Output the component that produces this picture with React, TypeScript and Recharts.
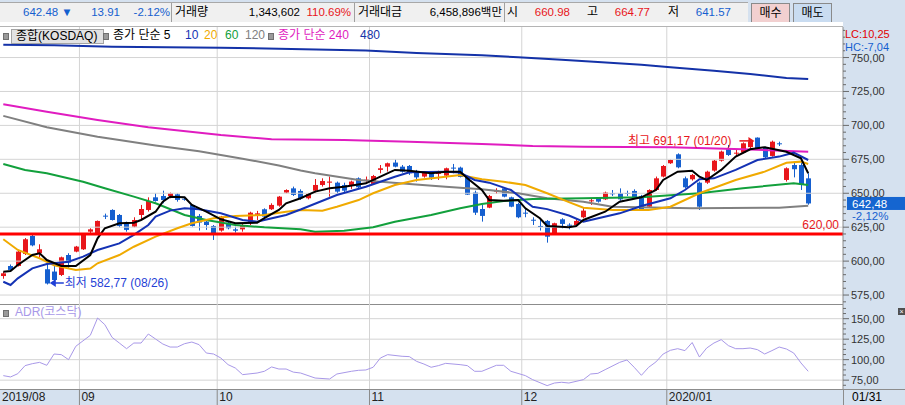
import React from 'react';
import { Bar, ComposedChart, Line, ReferenceDot, ReferenceLine, XAxis, YAxis } from 'recharts';

// trading days shown (KOSDAQ daily)
const dates = [
  '08/16', '08/19', '08/20', '08/21', '08/22', '08/23', '08/26', '08/27', '08/28', '08/29', '08/30',
  '09/02', '09/03', '09/04', '09/05', '09/06', '09/09', '09/10', '09/11', '09/16', '09/17', '09/18', '09/19', '09/20', '09/23', '09/24', '09/25', '09/26', '09/27', '09/30',
  '10/01', '10/02', '10/04', '10/07', '10/08', '10/10', '10/11', '10/14', '10/15', '10/16', '10/17', '10/18', '10/21', '10/22', '10/23', '10/24', '10/25', '10/28', '10/29', '10/30', '10/31',
  '11/01', '11/04', '11/05', '11/06', '11/07', '11/08', '11/11', '11/12', '11/13', '11/14', '11/15', '11/18', '11/19', '11/20', '11/21', '11/22', '11/25', '11/26', '11/27', '11/28', '11/29',
  '12/02', '12/03', '12/04', '12/05', '12/06', '12/09', '12/10', '12/11', '12/12', '12/13', '12/16', '12/17', '12/18', '12/19', '12/20', '12/23', '12/24', '12/26', '12/27', '12/30',
  '01/02', '01/03', '01/06', '01/07', '01/08', '01/09', '01/10', '01/13', '01/14', '01/15', '01/16', '01/17', '01/20', '01/21', '01/22', '01/23', '01/28', '01/29', '01/30', '01/31',
];

const opens = [
  589, 596.4, 596.4, 605.3, 618.5, 605.8, 594, 592.3, 589.8, 604.5, 607,
  608.7, 621.7, 620, 633.5, 637.7, 634, 628.4, 625.4, 634, 637.7, 647, 648, 648, 649.2, 646, 641.4, 633.3, 629.1, 625.9,
  622.5, 628.4, 623.4, 623.4, 627.9, 634, 638.2, 638.2, 640.9, 650.5, 653.6, 651.7, 646.3, 651.9, 656.1, 657.8, 657.8, 656.1, 656.1, 661, 659.3,
  656.9, 667.2, 669.6, 672.6, 669.6, 670.1, 665.9, 662.3, 665.4, 664.5, 663, 668.9, 668.9, 662, 650.5, 638.4, 639.4, 651.2, 653.6, 647, 642.1,
  635.7, 630.5, 625.9, 629.6, 620, 630.8, 626.8, 626.6, 632.3, 644.3, 646.3, 645.5, 650, 650, 650.2, 651.7, 648, 640.1, 652.4, 662.3,
  672.1, 678.7, 661, 660.3, 657.8, 657.8, 666.7, 674, 682.4, 679.4, 679.9, 684, 691, 683.9, 677.5, 686.8, 659.8, 670.8, 670.8, 660.98,
];
const highs = [
  592, 597.5, 608, 617, 619.3, 612.4, 597.9, 596.4, 603.3, 605.8, 611.2,
  620, 624.2, 629.9, 635, 638.2, 634.7, 629.1, 632.3, 641.4, 647, 650, 651.9, 650.5, 650, 647, 641.9, 634.7, 630.3, 626.6,
  633.3, 629.6, 625.4, 627.9, 636.4, 637, 638.9, 642.6, 648, 652.9, 654.9, 652.9, 650, 660.5, 661, 662.3, 658.6, 657.8, 659.3, 661.7, 662.3,
  663.5, 670.8, 672.6, 675, 670.8, 670.8, 667.2, 666.4, 665.9, 666.6, 668.9, 671.6, 669.6, 662.3, 651.9, 641.4, 648.8, 653.7, 654.4, 647.5, 643,
  638.9, 632.3, 630.3, 630.3, 628.3, 631.6, 627.9, 630.8, 639.7, 646.3, 647, 651.2, 652.4, 653.6, 651.9, 652.9, 648.8, 652.9, 662.3, 670.8,
  675, 679.4, 662.3, 664.2, 658.6, 666.6, 674.5, 681.4, 685.6, 682.4, 687.5, 689.5, 691.17, 684.4, 688.8, 688, 669.1, 672.6, 674.5, 664.77,
];
const lows = [
  587, 592.5, 596, 604.5, 610.9, 602.8, 582.77, 583, 589, 594.7, 606.5,
  608.2, 620.5, 619.5, 631, 629.9, 624.9, 621.7, 624.9, 630.3, 636.5, 643.8, 642.6, 646.3, 643.8, 644.5, 625.4, 622.5, 623, 615.6,
  621.7, 623.4, 621, 621.7, 626.6, 630.3, 632.3, 637.7, 640.1, 650, 648, 645.1, 645.5, 650.5, 654.9, 647.5, 650, 650.5, 653.2, 653.6, 656.9,
  656.1, 664.7, 666, 669.1, 665.2, 663.5, 658.6, 661.5, 659.8, 659.8, 660.3, 664.7, 661.7, 648.8, 634, 629.1, 639, 649.5, 647, 639.7, 631.6,
  632.3, 626.6, 622.5, 613.6, 619.3, 624.2, 623.4, 625.9, 631.6, 641.4, 643.1, 645, 648, 644.5, 648, 646.3, 637.7, 639.7, 651.9, 661.7,
  671.6, 668.4, 653.6, 659.3, 637.7, 656.9, 665.9, 673.3, 677.5, 677, 679.4, 682, 682.4, 675.7, 677, 684.8, 658.6, 661.7, 652.4, 641.57,
];
const closes = [
  591, 593.5, 607, 616.1, 611.6, 608.7, 583.5, 586.1, 602.8, 598.9, 610.7,
  619.3, 623.4, 629.6, 633, 630.3, 625.9, 623, 630.3, 638.4, 644.3, 644.3, 645, 650, 645.1, 645.5, 625.9, 628.4, 626.6, 620.5,
  632.8, 624.2, 622.4, 626.6, 635.7, 635.2, 632.8, 641.4, 647.5, 652.4, 648.8, 646.3, 649.5, 656.1, 659, 658.6, 651.2, 651.9, 658.6, 654.4, 660,
  662.7, 668.4, 672.1, 669.6, 665.9, 664.7, 661.7, 665.7, 661.5, 665, 668.4, 668.4, 662, 649, 635.7, 633.3, 648, 651.9, 647.5, 640.1, 632.3,
  635.2, 630, 625.4, 618, 627.9, 627.4, 626.4, 629.6, 637.2, 644.8, 643.8, 650.5, 649.6, 645.5, 649.8, 647, 638.2, 652.4, 661, 670.1,
  674.5, 669.1, 654.4, 663.5, 640.1, 665.9, 674, 680.7, 678.2, 679.9, 686.8, 688, 683.1, 676.5, 688, 686.4, 668.4, 667.7, 656.1, 642.48,
];

// moving averages: [day index, value]
const ma5: [number, number][] = [
  [0, 592.2], [1, 592.7], [2, 597.1], [4, 604.5], [5, 605.8], [6, 600.8], [8, 596.4], [10, 596.4], [12, 604.5], [13, 616.8],
  [14, 624.2], [16, 627.9], [18, 628.3], [19, 630.3], [21, 636.4], [22, 643.8], [23, 647.5], [25, 647], [26, 641.4], [28, 636.4],
  [30, 630.8], [32, 627.9], [35, 628.3], [36, 631.6], [38, 637.7], [39, 642.6], [41, 646.3], [43, 651.2], [45, 653.7], [47, 654.8],
  [50, 657.3], [52, 662.2], [54, 667.2], [56, 666.6], [59, 664.7], [61, 665.9], [63, 665.9], [64, 661], [66, 652.4], [67, 645],
  [69, 644.5], [71, 645], [72, 638.9], [74, 631.6], [75, 625.9], [78, 624.9], [79, 625.9], [80, 630.3], [83, 636.4], [85, 643.8],
  [88, 647], [90, 652.4], [91, 659.8], [93, 665.9], [95, 666.6], [96, 662.2], [97, 659.8], [99, 667.2], [101, 677], [103, 682.4],
  [105, 683.9], [108, 680.6], [110, 675.7], [111, 664.7],
];
const ma10: [number, number][] = [
  [0, 584.8], [1, 582.4], [2, 587.3], [4, 594.7], [6, 597.9], [9, 599.6], [11, 603.3], [13, 608.2], [16, 613.1], [18, 619.3],
  [20, 626.6], [21, 632.8], [23, 637.2], [25, 638.9], [27, 638.2], [30, 635.2], [33, 630.3], [35, 629], [36, 630.3], [39, 634],
  [41, 638], [46, 648.7], [50, 654.8], [54, 662.2], [56, 665.4], [61, 665.9], [63, 665.2], [65, 659.8], [67, 657.8], [70, 652.4],
  [73, 640.1], [75, 638.3], [78, 633.6], [80, 629], [81, 630.3], [85, 635.2], [88, 640.6], [92, 646.3], [94, 652.4], [96, 660.3],
  [98, 661], [101, 667.2], [104, 674.5], [107, 677], [109, 679.9], [111, 674.5],
];
const ma20: [number, number][] = [
  [0, 616.1], [2, 608.2], [5, 602.1], [7, 597], [10, 593.5], [12, 594.5], [13, 598.4], [16, 604.5], [18, 610.6], [21, 618],
  [24, 624.2], [26, 627.9], [29, 631.6], [32, 633.3], [36, 634], [39, 636.4], [41, 637.7], [44, 637.2], [46, 640.1], [49, 645],
  [51, 650], [54, 656.1], [57, 659.8], [61, 662.2], [63, 663.5], [66, 660.3], [69, 658.5], [72, 656.1], [75, 650], [78, 643.5],
  [80, 639.4], [84, 637.7], [89, 637.7], [92, 640.1], [96, 650], [101, 659.8], [105, 665.9], [108, 672.5], [110, 673.3], [111, 671.6],
];
const ma60: [number, number][] = [
  [0, 671.6], [3, 667.2], [6, 664.7], [11, 658.5], [14, 653.7], [18, 647.5], [21, 642.6], [25, 634], [28, 630.3], [32, 626.6],
  [36, 624.9], [41, 623.5], [43, 621.7], [47, 622.4], [51, 624.9], [54, 629], [59, 634], [63, 638.9], [66, 642.1], [69, 644.3],
  [73, 645.8], [80, 646.3], [88, 647], [96, 650], [102, 653.7], [109, 657.4], [111, 656.1],
];
const ma120: [number, number][] = [
  [0, 707], [6, 698.6], [13, 691.7], [16, 689.3], [21, 685.2], [27, 680.9], [33, 675.5], [38, 670.5], [41, 666.7], [43, 664.7],
  [49, 659.8], [56, 656.8], [61, 654.8], [66, 652.9], [71, 650], [75, 646.3], [80, 643.8], [84, 640.1], [95, 638.9], [107, 639.4],
  [111, 640.8],
];
const ma240: [number, number][] = [
  [0, 715.6], [6, 710.1], [13, 704], [20, 698.6], [30, 692.9], [37, 689.8], [47, 689.3], [56, 688], [66, 686.3], [73, 684.8],
  [80, 684.3], [92, 683.9], [102, 682.4], [111, 680.6],
];
const ma480: [number, number][] = [
  [0, 759.5], [7, 759], [15, 758], [30, 757.3], [38, 756.4], [50, 755.1], [57, 753.4], [66, 751.7], [71, 750.2], [77, 748.4],
  [82, 746.7], [88, 744.7], [92, 742.8], [98, 740.3], [103, 737.9], [108, 735], [111, 734.2],
];

// ADR (코스닥): [day index, value]
const adr: [number, number][] = [
  [0, 80.5], [1, 78.9], [2, 82.9], [3, 92.7], [4, 95.1], [5, 96.7], [6, 93.1], [7, 106.9], [8, 106.1], [9, 100],
  [10, 116.3], [12, 129.7], [13, 150.8], [14, 142.7], [15, 127.2], [16, 120.3], [17, 113.4], [18, 120.3], [19, 120.3], [20, 131.3],
  [21, 125.2], [22, 119.1], [23, 115.4], [24, 115.4], [25, 119.5], [26, 121.5], [27, 118.3], [28, 108.1], [29, 106.9], [30, 102],
  [31, 93.9], [32, 89.8], [33, 81.7], [35, 83.7], [36, 85.8], [37, 91.1], [38, 88.6], [39, 88.6], [40, 84.8], [41, 83.7],
  [43, 77.6], [45, 76.4], [46, 82.5], [48, 85.8], [49, 87], [50, 87.4], [51, 90.7], [52, 102], [53, 106.1], [55, 104.1],
  [56, 103.7], [57, 97.9], [58, 94.7], [59, 90.7], [60, 92.7], [61, 95.5], [63, 93.9], [64, 92.7], [65, 85.8], [66, 85.8],
  [68, 93.1], [69, 93.1], [70, 85.8], [72, 80.5], [73, 75.6], [75, 68.3], [76, 71.5], [77, 72.4], [78, 71.5], [80, 75.6],
  [81, 82.5], [82, 83.3], [83, 87.8], [85, 96.7], [86, 99.6], [87, 90.7], [88, 80.9], [89, 90.7], [90, 97.2], [91, 106.9],
  [92, 111.4], [93, 113.4], [94, 111], [95, 120.9], [96, 103.2], [97, 114.2], [98, 120.3], [99, 124.4], [100, 117.1], [101, 113.4],
  [102, 113.4], [103, 114.2], [104, 112.2], [105, 106.9], [106, 111], [107, 115.4], [108, 113], [109, 108.1], [110, 96], [111, 85.8],
];

const monthLabels = ['2019/08', '09', '10', '11', '12', '2020/01'];
const priceMajorTicks = [575, 600, 625, 650, 675, 700, 725, 750];
const adrMajorTicks = [75, 100, 125, 150];
const supportLevel = 620;
const dayChange = 13.91;
const dayChangePct = -2.12;
const volume = '1,343,602';
const volumeRatio = '110.69%';
const turnover = '6,458,896백만';
const lcText = 'LC:10,25';
const hcText = 'HC:-7,04';

const FONT = '"Liberation Sans", "Noto Sans CJK KR", sans-serif';
const RED = '#e8161b';
const BLUE = '#155fcf';
const GRID = '#d4d4d4';
const AXIS = '#8c8c8c';
const BG = '#d5e1ef';
const W = 905;
const PLOT_W = 843;
const X_DOMAIN: [number, number] = [-0.455, 115.8];
const PRICE_DOMAIN: [number, number] = [568.4, 772.5];
const ADR_DOMAIN: [number, number] = [64.2, 167.9];

const fmt = (v: number) => v.toFixed(2).replace('.', ',');
const steps = (a: number, b: number, s: number) =>
  Array.from({ length: Math.round((b - a) / s) + 1 }, (_, k) => a + k * s);

const last = closes.length - 1;
const candles = dates.map((date, i) => ({
  i, date, open: opens[i], high: highs[i], low: lows[i], close: closes[i], range: [lows[i], highs[i]],
}));
const maxIdx = highs.indexOf(Math.max(...highs));
const minIdx = lows.indexOf(Math.min(...lows));
const monthStarts = dates
  .map((_, i) => i)
  .filter((i) => i > 0 && dates[i].slice(0, 2) !== dates[i - 1].slice(0, 2))
  .map((i) => i - 0.5);
const axisTicks = [X_DOMAIN[0], ...monthStarts];
const priceTicks = steps(570, 770, 5);
const adrTicks = steps(68.75, 162.5, 6.25);
const adrData = adr.map(([i, v]) => ({ i, v }));

const maLines = [
  { name: 'ma480', pts: ma480, color: '#1432a8' },
  { name: 'ma240', pts: ma240, color: '#e01cc0' },
  { name: 'ma120', pts: ma120, color: '#808080' },
  { name: 'ma60', pts: ma60, color: '#12a03c' },
  { name: 'ma20', pts: ma20, color: '#f0aa00' },
  { name: 'ma10', pts: ma10, color: '#1432b4' },
  { name: 'ma5', pts: ma5, color: '#000000' },
];

function Candle(props: any) {
  const { x, y, width, height, payload } = props;
  if (!payload || height == null) return null;
  const { open, high, low, close } = payload;
  const cx = Math.round(x + width / 2);
  const py = (v: number) => y + ((high - v) / (high - low)) * height;
  const color = close >= open ? RED : BLUE;
  const top = py(Math.max(open, close));
  const bot = py(Math.min(open, close));
  return (
    <g>
      <line x1={cx + 0.5} x2={cx + 0.5} y1={y} y2={y + height} stroke={color} strokeWidth={1} />
      <rect x={cx - 2} y={top} width={5} height={Math.max(bot - top, 1)} fill={color} />
    </g>
  );
}

function AxisTick({ x, y, payload, major }: any) {
  const v = payload.value;
  const isMajor = major.includes(v);
  return (
    <g>
      <line x1={x} x2={x + (isMajor ? 6 : 3)} y1={y} y2={y} stroke="#6a6a6a" />
      {isMajor && (
        <text x={x + 8} y={y + 4} fontSize={11} fill="#333" fontFamily={FONT}>
          {fmt(v)}
        </text>
      )}
    </g>
  );
}

function DateTick({ x, y, payload }: any) {
  const k = axisTicks.findIndex((t) => Math.abs(t - payload.value) < 0.01);
  return (
    <g>
      {k > 0 && <line x1={x} x2={x} y1={y} y2={y + 16} stroke="#8a8a8a" />}
      <text x={x + 2} y={y + 12} fontSize={12} fill="#222" fontFamily={FONT}>
        {monthLabels[k]}
      </text>
    </g>
  );
}

function MaxMarker({ cx, cy }: any) {
  return (
    <g>
      <text x={cx - 26} y={cy + 7.5} textAnchor="end" fontSize={12} fill={RED} fontFamily={FONT}>
        {`최고 ${fmt(highs[maxIdx])} (${dates[maxIdx]})`}
      </text>
      <line x1={cx - 18} x2={cx - 8} y1={cy + 3.5} y2={cy + 3.5} stroke={RED} strokeWidth={1.5} />
      <polygon points={`${cx - 9},${cy - 0.5} ${cx - 3},${cy + 3.5} ${cx - 9},${cy + 7.5}`} fill={RED} />
    </g>
  );
}

function MinMarker({ cx, cy }: any) {
  const c = '#1f3fd6';
  return (
    <g>
      <polygon points={`${cx + 3},${cy - 1.5} ${cx + 9},${cy - 5.5} ${cx + 9},${cy + 2.5}`} fill={c} />
      <line x1={cx + 8} x2={cx + 17} y1={cy - 1.5} y2={cy - 1.5} stroke={c} strokeWidth={1.5} />
      <text x={cx + 18} y={cy + 2.5} fontSize={12} fill={c} fontFamily={FONT}>
        {`최저 ${fmt(lows[minIdx])} (${dates[minIdx]})`}
      </text>
    </g>
  );
}

function PriceTag(props: any) {
  const { x, y, width } = props.viewBox;
  const left = x + width + 4;
  return (
    <g>
      <rect x={left} y={y - 6.5} width={58} height={13} fill="#1565d0" />
      <text x={left + 5} y={y + 4.5} fontSize={11.5} fill="#fff" fontFamily={FONT}>
        {fmt(closes[last])}
      </text>
      <text x={left + 5} y={y + 17} fontSize={11.5} fill={BLUE} fontFamily={FONT}>
        {`${fmt(dayChangePct)}%`}
      </text>
    </g>
  );
}

function SupportLabel(props: any) {
  const { x, y, width } = props.viewBox;
  return (
    <text x={x + width - 4} y={y - 5} textAnchor="end" fontSize={12} fill={RED} fontFamily={FONT}>
      {fmt(supportLevel)}
    </text>
  );
}

const abs = (left: number, top: number, extra: React.CSSProperties = {}): React.CSSProperties => ({
  position: 'absolute', left, top, ...extra,
});

function Txt({ x, y, end, color = '#000', size = 12, lh = 15, children }: any) {
  const style: React.CSSProperties = {
    position: 'absolute', top: y, fontSize: size, color, fontFamily: FONT, lineHeight: `${lh}px`, whiteSpace: 'nowrap',
  };
  if (end != null) style.right = W - end; else style.left = x;
  return <div style={style}>{children}</div>;
}

const Square = ({ x }: { x: number }) => (
  <div style={abs(x, 33, { width: 4, height: 5, background: '#9a9a9a', border: '1px solid #707070' })} />
);

export default function App() {
  const q = 11.5;
  return (
    <div style={{ position: 'absolute', left: 0, top: 0, width: W, height: 405, background: BG, overflow: 'hidden', fontFamily: FONT }}>
      {/* quote bar */}
      <div style={abs(0, 2, { width: 748, height: 19, background: '#f0f0f0', borderTop: '1px solid #a8a8a8', borderBottom: '1px solid #a8a8a8' })} />
      {[171, 354, 504].map((x) => (
        <div key={x} style={abs(x, 3, { width: 1, height: 19, background: '#a0a0a0' })} />
      ))}
      <Txt x={23} y={5} size={q} color={BLUE}>{`${closes[last].toFixed(2)} ▼`}</Txt>
      <Txt end={120} y={5} size={q} color={BLUE}>{dayChange.toFixed(2)}</Txt>
      <Txt end={170} y={5} size={q} color={BLUE}>{`${dayChangePct.toFixed(2)}%`}</Txt>
      <Txt x={175} y={5}>거래량</Txt>
      <Txt end={300} y={5} size={q}>{volume}</Txt>
      <Txt end={351} y={5} size={q} color={RED}>{volumeRatio}</Txt>
      <Txt x={358} y={5}>거래대금</Txt>
      <Txt end={502} y={5} size={q}>{turnover}</Txt>
      <Txt x={507} y={5}>시</Txt>
      <Txt end={570} y={5} size={q} color={RED}>{opens[last].toFixed(2)}</Txt>
      <Txt x={587} y={5}>고</Txt>
      <Txt end={650} y={5} size={q} color={RED}>{highs[last].toFixed(2)}</Txt>
      <Txt x={668} y={5}>저</Txt>
      <Txt end={731} y={5} size={q} color={BLUE}>{lows[last].toFixed(2)}</Txt>
      <div style={abs(751, 3, { width: 37, height: 18, background: '#f2d0d0', border: '1px solid #8a8a8a', fontSize: 12, lineHeight: '18px', textAlign: 'center' })}>매수</div>
      <div style={abs(793, 3, { width: 37, height: 18, background: '#c9dcf1', border: '1px solid #8a8a8a', fontSize: 12, lineHeight: '18px', textAlign: 'center' })}>매도</div>

      {/* panels */}
      <div style={abs(0, 22, { width: PLOT_W, height: 282, background: '#fff' })} />
      <div style={abs(0, 304, { width: PLOT_W, height: 85, background: '#fff' })} />
      <div style={abs(0, 26, { width: PLOT_W, height: 1, background: '#b4b4b4' })} />

      <div style={abs(0, 27, { width: W, height: 277 })}>
        <ComposedChart width={W} height={277} data={candles} margin={{ top: 0, right: 0, bottom: 0, left: 0 }}>
          <XAxis type="number" dataKey="i" domain={X_DOMAIN} allowDataOverflow hide />
          <YAxis
            orientation="right"
            width={62}
            domain={PRICE_DOMAIN}
            allowDataOverflow
            ticks={priceTicks}
            interval={0}
            tickSize={0}
            tickMargin={0}
            axisLine={{ stroke: AXIS }}
            tick={(p: any) => <AxisTick {...p} major={priceMajorTicks} />}
          />
          {priceMajorTicks.map((v) => (
            <ReferenceLine key={`h${v}`} y={v} stroke={GRID} />
          ))}
          {monthStarts.map((v) => (
            <ReferenceLine key={`v${v}`} x={v} stroke={GRID} />
          ))}
          <Bar dataKey="range" barSize={5} shape={(p: any) => <Candle {...p} />} isAnimationActive={false} />
          {maLines.map((s) => (
            <Line
              key={s.name}
              data={s.pts.map(([i, v]) => ({ i, v }))}
              dataKey="v"
              stroke={s.color}
              strokeWidth={2}
              dot={false}
              activeDot={false}
              isAnimationActive={false}
            />
          ))}
          <ReferenceLine y={supportLevel} stroke="#ff0000" strokeWidth={3} label={(p: any) => <SupportLabel {...p} />} />
          <ReferenceLine y={closes[last]} stroke="none" label={(p: any) => <PriceTag {...p} />} />
          <ReferenceDot x={maxIdx} y={highs[maxIdx]} r={0} shape={(p: any) => <MaxMarker {...p} />} />
          <ReferenceDot x={minIdx} y={lows[minIdx]} r={0} shape={(p: any) => <MinMarker {...p} />} />
        </ComposedChart>
      </div>

      <div style={abs(0, 304, { width: PLOT_W, height: 1, background: '#8c8c8c' })} />

      <div style={abs(0, 304, { width: W, height: 101 })}>
        <ComposedChart width={W} height={101} data={adrData} margin={{ top: 0, right: 0, bottom: 0, left: 0 }}>
          <XAxis
            type="number"
            dataKey="i"
            domain={X_DOMAIN}
            allowDataOverflow
            height={16}
            ticks={axisTicks}
            interval={0}
            tickSize={0}
            tickMargin={0}
            axisLine={false}
            tick={(p: any) => <DateTick {...p} />}
          />
          <YAxis
            orientation="right"
            width={62}
            domain={ADR_DOMAIN}
            allowDataOverflow
            ticks={adrTicks}
            interval={0}
            tickSize={0}
            tickMargin={0}
            axisLine={{ stroke: AXIS }}
            tick={(p: any) => <AxisTick {...p} major={adrMajorTicks} />}
          />
          {adrMajorTicks.map((v) => (
            <ReferenceLine key={`h${v}`} y={v} stroke={GRID} />
          ))}
          {monthStarts.map((v) => (
            <ReferenceLine key={`v${v}`} x={v} stroke={GRID} />
          ))}
          <Line dataKey="v" stroke="#a898e8" strokeWidth={1} dot={false} activeDot={false} isAnimationActive={false} />
        </ComposedChart>
      </div>

      <div style={abs(0, 389, { width: W, height: 1, background: '#8c8c8c' })} />
      <div style={abs(PLOT_W, 389, { width: 1, height: 16, background: '#8c8c8c' })} />
      <Txt x={852} y={390}>{dates[last]}</Txt>

      {/* legends */}
      <Square x={3} />
      <div style={abs(11, 29, { width: 87, height: 13, background: '#e2e2e2', border: '1px solid #a4a4a4', fontSize: 12, lineHeight: '13px', paddingLeft: 4, boxSizing: 'content-box' })}>
        종합(KOSDAQ)
      </div>
      <Square x={103} />
      <Txt x={113} y={28}>종가 단순 5</Txt>
      <Txt x={185} y={28} color="#1432b4">10</Txt>
      <Txt x={204} y={28} color="#f0aa00">20</Txt>
      <Txt x={225} y={28} color="#12a03c">60</Txt>
      <Txt x={245} y={28} color="#808080">120</Txt>
      <Square x={268} />
      <Txt x={278} y={28} color="#e01cc0">종가 단순 240</Txt>
      <Txt x={360} y={28} color="#1432a8">480</Txt>

      <div style={abs(3, 310, { width: 4, height: 5, background: '#9a9a9a', border: '1px solid #707070' })} />
      <Txt x={15} y={305} color="#a898e8">ADR(코스닥)</Txt>

      <div style={abs(845, 28, { width: 60, height: 24, background: BG })} />
      <Txt x={845} y={28} size={11} lh={12} color="#e00000">{lcText}</Txt>
      <Txt x={845} y={41} size={11} lh={12} color={BLUE}>{hcText}</Txt>
      <div style={abs(898, 308, { width: 7, height: 7, background: '#505050', color: '#fff', fontSize: 7, lineHeight: '7px', textAlign: 'center' })}>×</div>
    </div>
  );
}
